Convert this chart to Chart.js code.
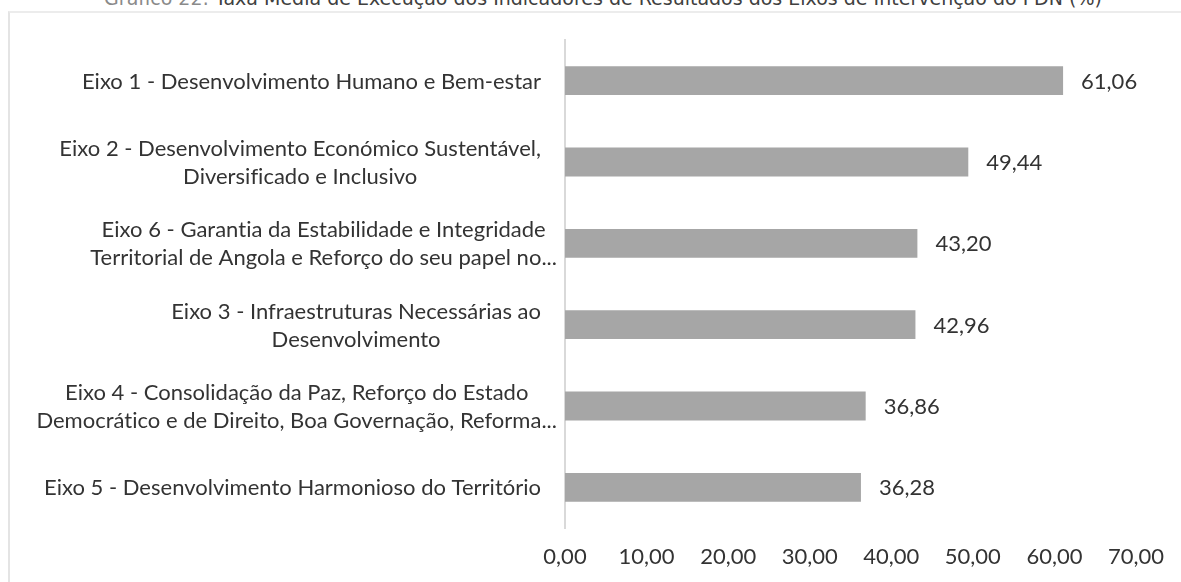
<!DOCTYPE html>
<html>
<head>
<meta charset="utf-8">
<script src="https://cdn.jsdelivr.net/npm/chart.js@4.4.1/dist/chart.umd.min.js"></script>
<style>
    html, body {
        margin: 0;
        padding: 0;
        background: #ffffff;
    }
    #wrap {
        position: relative;
        width: 1181px;
        height: 582px;
        overflow: hidden;
    }
    #frame {
        position: absolute;
        left: 8px;
        top: 11px;
        width: 1300px;
        height: 700px;
        border-left: 2px solid #e4e4e4;
        border-top: 2px solid #ececec;
    }
    #title {
        position: absolute;
        left: 0;
        width: 1206px;
        top: -13px;
        text-align: center;
        font-family: "DejaVu Sans", Verdana, sans-serif;
        font-size: 19px;
        color: #404040;
        white-space: nowrap;
    }
    #title .num {
        color: #8a8a8a;
    }
    canvas {
        position: absolute;
        left: 0;
        top: 0;
    }
</style>
</head>
<body>
<div id="wrap">
    <div id="frame"></div>
    <div id="title"><span class="num">Gráfico 22:</span> Taxa Média de Execução dos Indicadores de Resultados dos Eixos de Intervenção do PDN (%)</div>
    <canvas id="chart" width="1181" height="582"></canvas>
</div>
<script>
// categories (each one split in its display lines)
const categories = [
    ['Eixo 1 - Desenvolvimento Humano e Bem-estar'],
    ['Eixo 2 - Desenvolvimento Económico Sustentável,', 'Diversificado e Inclusivo'],
    ['Eixo 6 - Garantia da Estabilidade e Integridade', 'Territorial de Angola e Reforço do seu papel no...'],
    ['Eixo 3 - Infraestruturas Necessárias ao', 'Desenvolvimento'],
    ['Eixo 4 - Consolidação da Paz, Reforço do Estado', 'Democrático e de Direito, Boa Governação, Reforma...'],
    ['Eixo 5 - Desenvolvimento Harmonioso do Território']
];

// taxa média de execução (%)
const values = [61.06, 49.44, 43.20, 42.96, 36.86, 36.28];

// x axis ticks
const tickValues = [0, 10, 20, 30, 40, 50, 60, 70];

const FONT = 'Lato, "Open Sans", sans-serif';
const TEXT = '#333333';

function fmt(v) {
    return v.toFixed(2).replace('.', ',');
}

// no "fi"/"ti" ligatures, like the original
function plainText(ctx) {
    ctx.textRendering = 'optimizeSpeed';
    ctx.letterSpacing = '0.01px';
}

// Category labels: lines centred on each other, block right aligned to the axis
// (truncated labels spill a bit further right, as Excel does)
const categoryLabels = {
    id: 'categoryLabels',
    afterDraw(chart) {
        const ctx = chart.ctx;
        const y = chart.scales.y;
        const lineH = 28;
        ctx.save();
        ctx.font = '22px ' + FONT;
        plainText(ctx);
        ctx.fillStyle = TEXT;
        ctx.textAlign = 'center';
        ctx.textBaseline = 'middle';
        categories.forEach((lines, i) => {
            const cut = lines[lines.length - 1].endsWith('...');
            const right = chart.chartArea.left - (cut ? 8 : 24);
            const cy = y.getPixelForValue(i) + 1;
            const w = Math.max(...lines.map(l => ctx.measureText(l).width));
            const cx = right - w / 2;
            const top = cy - (lines.length - 1) * lineH / 2;
            lines.forEach((l, k) => ctx.fillText(l, cx, top + k * lineH));
        });
        ctx.restore();
    }
};

// value labels at the end of each bar
const valueLabels = {
    id: 'valueLabels',
    afterDatasetsDraw(chart) {
        const ctx = chart.ctx;
        const meta = chart.getDatasetMeta(0);
        ctx.save();
        ctx.font = '22px ' + FONT;
        plainText(ctx);
        ctx.fillStyle = TEXT;
        ctx.textAlign = 'left';
        ctx.textBaseline = 'middle';
        meta.data.forEach((bar, i) => {
            ctx.fillText(fmt(values[i]), bar.x + 18, bar.y + 1);
        });
        ctx.restore();
    }
};

new Chart(document.getElementById('chart'), {
    type: 'bar',
    data: {
        labels: categories.map(c => c.join(' ')),
        datasets: [{
            data: values,
            backgroundColor: '#a6a6a6',
            borderWidth: 0,
            categoryPercentage: 1,
            barPercentage: 0.355
        }]
    },
    options: {
        indexAxis: 'y',
        responsive: false,
        animation: false,
        events: [],
        layout: {
            padding: { top: 40, right: 45, bottom: 0, left: 0 }
        },
        plugins: {
            legend: { display: false },
            tooltip: { enabled: false }
        },
        scales: {
            x: {
                min: 0,
                max: 70,
                afterBuildTicks(scale) {
                    scale.ticks = tickValues.map(v => ({ value: v }));
                },
                afterFit(scale) {
                    scale.height = 54;
                },
                grid: { display: false, drawTicks: false },
                border: { display: false },
                ticks: {
                    padding: 16,
                    maxRotation: 0,
                    color: TEXT,
                    font: { family: FONT, size: 22 },
                    callback: v => fmt(v)
                }
            },
            y: {
                afterFit(scale) {
                    scale.width = 565;
                },
                grid: { display: false, drawTicks: false },
                border: { display: true, color: '#d9d9d9', width: 2 },
                ticks: { display: false }
            }
        }
    },
    plugins: [categoryLabels, valueLabels]
});
</script>
</body>
</html>
